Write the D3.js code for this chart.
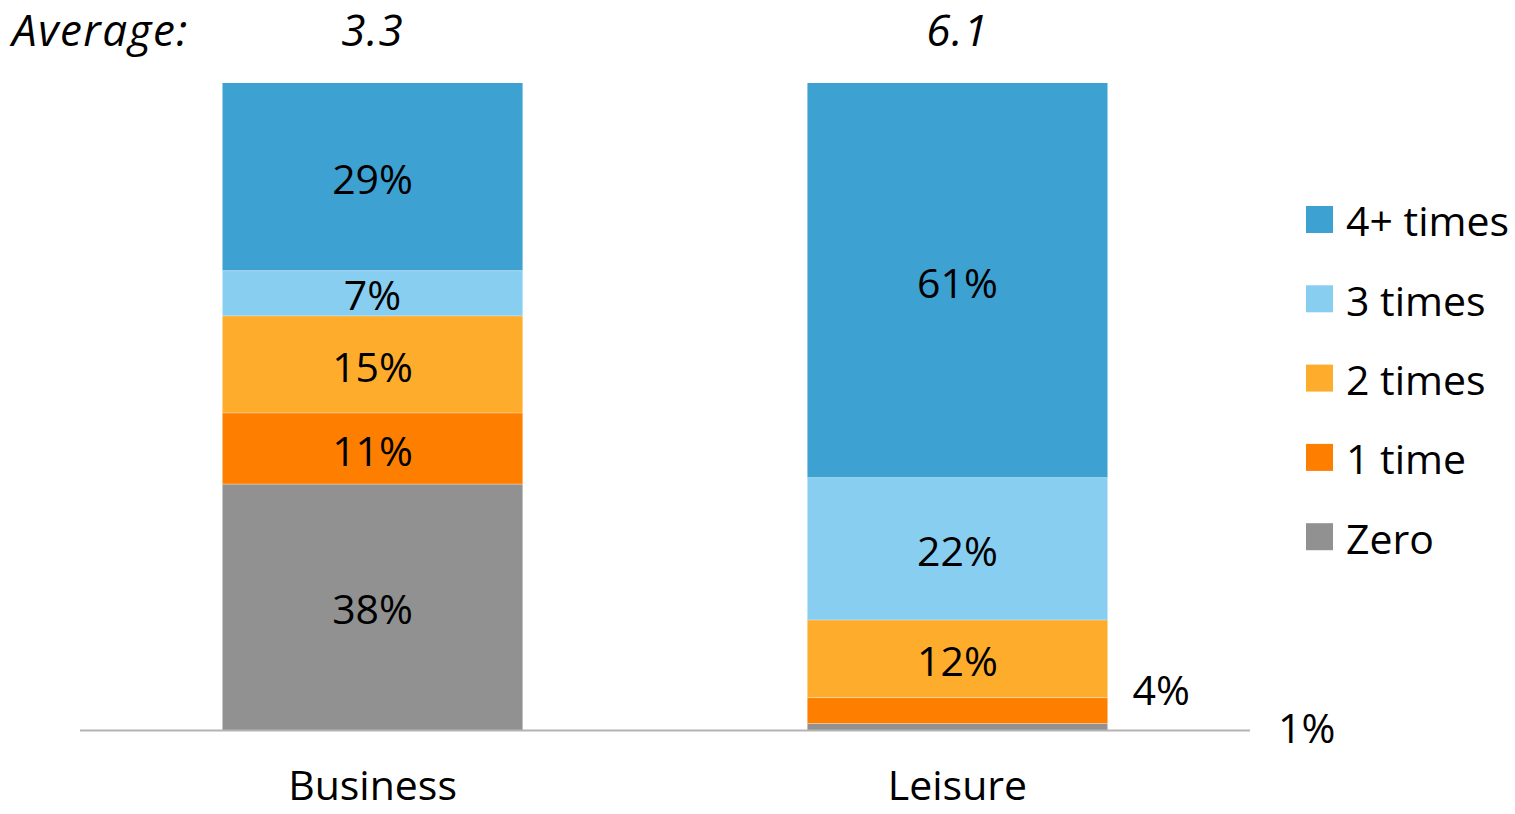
<!DOCTYPE html>
<html>
<head>
<meta charset="utf-8">
<script src="https://cdn.jsdelivr.net/npm/d3@7"></script>
<style>
  body { margin: 0; background: #fff; }
  svg { display: block; font-family: "Open Sans", sans-serif; }
</style>
</head>
<body>
<svg id="chart" width="1515" height="814"></svg>
<script>
const categories = ["Business", "Leisure"];
const averages = ["3.3", "6.1"];
// stacked bottom to top
const series = ["Zero", "1 time", "2 times", "3 times", "4+ times"];
const colors = ["#919191", "#fe7f00", "#fdac2c", "#88cef0", "#3da1d2"];
const business = [38, 11, 15, 7, 29];
const leisure = [1, 4, 12, 22, 61];

const width = 1515;
const height = 814;
const fs = 41;
const svg = d3.select("#chart");

const rows = categories.map((c, i) => {
    const vals = i === 0 ? business : leisure;
    const r = {category: c};
    series.forEach((s, j) => r[s] = vals[j]);
    return r;
});

const stack = d3.stack().keys(series);
const stacked = stack(rows);

const x = d3.scaleBand()
    .domain(categories)
    .range([80, 1250])
    .paddingInner(0.487)
    .paddingOuter(0.2436);

const y = d3.scaleLinear()
    .domain([0, 100])
    .range([730, 83]);

const color = d3.scaleOrdinal().domain(series).range(colors);

// bars
const layer = svg.append("g")
    .selectAll("g")
    .data(stacked)
    .join("g")
    .attr("fill", d => color(d.key));

layer.selectAll("rect")
    .data(d => d)
    .join("rect")
    .attr("x", d => x(d.data.category))
    .attr("y", d => y(d[1]))
    .attr("width", x.bandwidth())
    .attr("height", d => y(d[0]) - y(d[1]));

// thin light separators between segments
layer.selectAll("line")
    .data(d => d.filter(p => p[0] > 0))
    .join("line")
    .attr("x1", d => x(d.data.category))
    .attr("x2", d => x(d.data.category) + x.bandwidth())
    .attr("y1", d => y(d[0]))
    .attr("y2", d => y(d[0]))
    .attr("stroke", "#ffffff")
    .attr("stroke-opacity", 0.35)
    .attr("stroke-width", 1);

// baseline
svg.append("line")
    .attr("x1", 80)
    .attr("x2", 1250)
    .attr("y1", y(0) + 0.5)
    .attr("y2", y(0) + 0.5)
    .attr("stroke", "#b4b4b4")
    .attr("stroke-width", 2);

// value labels
const labels = [];
stacked.forEach(s => s.forEach(p => labels.push({key: s.key, p: p, v: p[1] - p[0]})));

svg.append("g")
    .selectAll("text")
    .data(labels)
    .join("text")
    .attr("font-size", fs)
    .attr("fill", "#000")
    .attr("dy", "0.42em")
    .each(function(d) {
        const t = d3.select(this);
        const cx = x(d.p.data.category) + x.bandwidth() / 2;
        const cy = (y(d.p[0]) + y(d.p[1])) / 2;
        if (d.v >= 5) {
            t.attr("x", cx).attr("y", cy).attr("text-anchor", "middle");
        } else if (d.key === "1 time") {
            t.attr("x", x(d.p.data.category) + x.bandwidth() + 25).attr("y", cy - 23).attr("text-anchor", "start");
        } else {
            t.attr("x", 1278).attr("y", cy - 1).attr("text-anchor", "start");
        }
    })
    .text(d => d.v + "%");

// category axis labels
const xAxis = d3.axisBottom(x).tickSize(0).tickPadding(0);
const gx = svg.append("g")
    .attr("transform", `translate(0,${y(0) + 56})`)
    .call(xAxis);
gx.select(".domain").remove();
gx.selectAll("text")
    .attr("font-family", "Open Sans, sans-serif")
    .attr("font-size", fs)
    .attr("fill", "#000")
    .attr("dy", "0.35em");

// averages row
svg.append("text")
    .attr("x", 12)
    .attr("y", 46)
    .attr("font-size", 44)
    .attr("font-style", "italic")
    .attr("letter-spacing", 1.5)
    .text("Average:");

svg.append("g")
    .selectAll("text")
    .data(categories)
    .join("text")
    .attr("x", d => x(d) + x.bandwidth() / 2)
    .attr("y", 46)
    .attr("text-anchor", "middle")
    .attr("font-size", 44)
    .attr("font-style", "italic")
    .attr("letter-spacing", 1)
    .text((d, i) => averages[i]);

// legend, top item is 4+ times
const legendItems = series.slice().reverse();
const legend = svg.append("g")
    .attr("transform", "translate(1306,206)")
    .selectAll("g")
    .data(legendItems)
    .join("g")
    .attr("transform", (d, i) => `translate(0,${i * 79.3})`);

legend.append("rect")
    .attr("width", 27)
    .attr("height", 27)
    .attr("fill", d => color(d));

legend.append("text")
    .attr("x", 40)
    .attr("y", 16)
    .attr("dy", "0.35em")
    .attr("font-size", fs)
    .text(d => d);
</script>
</body>
</html>
